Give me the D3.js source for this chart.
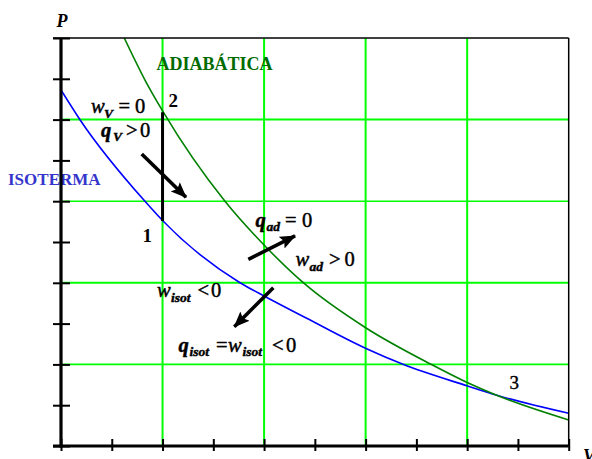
<!DOCTYPE html>
<html>
<head>
<meta charset="utf-8">
<script src="https://cdn.jsdelivr.net/npm/d3@7/dist/d3.min.js"></script>
<style>
  html, body { margin: 0; padding: 0; background: #fff; }
  svg { display: block; }
  text { font-family: "Liberation Serif", "Times New Roman", serif; }
</style>
</head>
<body>
<svg id="chart" width="592" height="459"></svg>
<script>
// P–V diagram: isotherm and adiabat through a common point (3),
// with an isochoric step 1 → 2.

// Isotherm (V, P) points
const isoV = [0, 0.187, 0.827, 1.005, 1.763, 2.009, 2.420, 3.004, 3.368, 4.005, 4.284, 5.0];
const isoP = [4.363, 3.999, 2.999, 2.757, 2.001, 1.832, 1.565, 1.195, 1.001, 0.735, 0.625, 0.401];

// Adiabat (V, P) points
const adV = [0.623, 0.827, 1.005, 1.615, 2.009, 2.386, 3.004, 3.644, 4.005, 4.284, 5.0];
const adP = [5.0, 4.485, 4.097, 2.999, 2.451, 2.001, 1.446, 1.001, 0.775, 0.625, 0.319];

// States
const stateNames = ["1", "2", "3"];
const stateV = [1.0, 1.0, 4.284];
const stateP = [2.757, 4.09, 0.625];

// Axis ticks (major grid + minor ticks)
const gridValues = [1, 2, 3, 4];
const tickValues = [0, 0.5, 1, 1.5, 2, 2.5, 3, 3.5, 4, 4.5, 5];

// Direction arrows: start (V, P) → end (V, P)
const arrowV0 = [0.795, 1.845, 2.091];
const arrowP0 = [3.578, 2.288, 1.940];
const arrowV1 = [1.231, 2.305, 1.707];
const arrowP1 = [3.048, 2.574, 1.462];

const svg = d3.select("#chart");
const x = d3.scaleLinear().domain([0, 5]).range([61, 568.7]);
const y = d3.scaleLinear().domain([0, 5]).range([446, 38]);

const GREEN_GRID = "#00ff00";
const BLUE = "#0000ff";
const GREEN = "#008000";

// Grid
const grid = svg.append("g");
grid.selectAll("line.v").data(gridValues).join("line")
  .attr("x1", d => x(d)).attr("x2", d => x(d))
  .attr("y1", y(0)).attr("y2", y(5))
  .attr("stroke", GREEN_GRID).attr("stroke-width", 2);
grid.selectAll("line.h").data(gridValues).join("line")
  .attr("y1", d => y(d)).attr("y2", d => y(d))
  .attr("x1", x(0)).attr("x2", x(5))
  .attr("stroke", GREEN_GRID).attr("stroke-width", d => (d % 2 === 0 ? 2 : 1.6));

// Curves
svg.append("clipPath").attr("id", "plot")
  .append("rect").attr("x", x(0)).attr("y", y(5))
  .attr("width", x(5) - x(0)).attr("height", y(0) - y(5));

const line = d3.line().x(d => x(d[0])).y(d => y(d[1])).curve(d3.curveMonotoneX);
svg.append("path")
  .attr("d", line(d3.zip(isoV, isoP)))
  .attr("fill", "none").attr("stroke", BLUE).attr("stroke-width", 1.6)
  .attr("clip-path", "url(#plot)");
svg.append("path")
  .attr("d", line(d3.zip(adV, adP)))
  .attr("fill", "none").attr("stroke", GREEN).attr("stroke-width", 1.6)
  .attr("clip-path", "url(#plot)");

// Isochoric step 1 → 2
svg.append("line")
  .attr("x1", x(stateV[0])).attr("x2", x(stateV[1]))
  .attr("y1", y(stateP[0])).attr("y2", y(stateP[1]))
  .attr("stroke", "#000").attr("stroke-width", 3);

// Arrows
svg.append("defs").append("marker")
  .attr("id", "head").attr("markerUnits", "userSpaceOnUse")
  .attr("viewBox", "0 -7 16 14").attr("refX", 15).attr("refY", 0)
  .attr("markerWidth", 16).attr("markerHeight", 14).attr("orient", "auto")
  .append("path").attr("d", "M0,-6.5L16,0L0,6.5L3,0Z").attr("fill", "#000");

svg.selectAll("line.arrow").data(d3.range(arrowV0.length)).join("line")
  .attr("class", "arrow")
  .attr("x1", i => x(arrowV0[i])).attr("y1", i => y(arrowP0[i]))
  .attr("x2", i => x(arrowV1[i])).attr("y2", i => y(arrowP1[i]))
  .attr("stroke", "#000").attr("stroke-width", 3.6)
  .attr("marker-end", "url(#head)");

// Curve names
svg.append("text").attr("x", 156.5).attr("y", 70)
  .attr("font-size", 18).attr("font-weight", "bold").attr("fill", "#006b00")
  .text("ADIABÁTICA");
svg.append("text").attr("x", 8).attr("y", 185)
  .attr("font-size", 17).attr("font-weight", "bold").attr("fill", "#3535cc")
  .text("ISOTERMA");

// Math labels, built from runs: [text, kind, x, baseline]
// kinds: "it" italic variable, "itb" bold italic variable, "sub" subscript, "up" upright
const MAIN = 20.5, SUB = 13.5, SUBDROP = 4.5;
function mathLabel(runs) {
  const t = svg.append("text").attr("fill", "#000")
    .attr("stroke", "#000").attr("stroke-width", 0.45);
  runs.forEach(([s, kind, px, py]) => {
    const ts = t.append("tspan").attr("x", px).text(s);
    if (kind === "sub") {
      ts.attr("y", py + SUBDROP).attr("font-size", SUB)
        .attr("font-style", "italic").attr("font-weight", "bold");
    } else {
      ts.attr("y", py).attr("font-size", MAIN)
        .attr("font-style", kind === "up" ? "normal" : "italic")
        .attr("font-weight", kind === "itb" ? "bold" : "normal");
    }
  });
}
mathLabel([["w", "it", 91, 113.3], ["V", "sub", 104, 113.3], ["=", "up", 118.5, 113.3], ["0", "up", 135, 113.3]]);
mathLabel([["q", "itb", 101, 136.7], ["V", "sub", 113, 136.7], [">", "up", 126, 136.7], ["0", "up", 140, 136.7]]);
mathLabel([["q", "itb", 255.5, 226.7], ["ad", "sub", 266.5, 226.7], ["=", "up", 285, 226.7], ["0", "up", 302, 226.7]]);
mathLabel([["w", "it", 295.5, 266], ["ad", "sub", 309.5, 266], [">", "up", 329, 266], ["0", "up", 344.5, 266]]);
mathLabel([["w", "it", 157, 297.3], ["isot", "sub", 171, 297.3], ["<", "up", 197.5, 297.3], ["0", "up", 211, 297.3]]);
mathLabel([["q", "itb", 178.5, 351.7], ["isot", "sub", 189.5, 351.7], ["=", "up", 216, 351.7],
           ["w", "it", 228, 351.7], ["isot", "sub", 242.5, 351.7], ["<", "up", 272, 351.7], ["0", "up", 286, 351.7]]);

// State numbers
const stateLabelDX = [-20, 6, 13.5];
const stateLabelDY = [20.5, -5, -6.5];
const stateLabelBold = [true, true, false];
svg.selectAll("text.state").data(stateNames).join("text")
  .attr("class", "state")
  .attr("x", (d, i) => x(stateV[i]) + stateLabelDX[i])
  .attr("y", (d, i) => y(stateP[i]) + stateLabelDY[i])
  .attr("font-size", 19).attr("fill", "#000")
  .attr("stroke", "#000").attr("stroke-width", (d, i) => stateLabelBold[i] ? 0 : 0.4)
  .attr("font-weight", (d, i) => stateLabelBold[i] ? "bold" : "normal")
  .text(d => d);

// Frame (top and right)
svg.append("line").attr("x1", x(0) - 8).attr("x2", x(5)).attr("y1", y(5)).attr("y2", y(5))
  .attr("stroke", "#000").attr("stroke-width", 1.5);
svg.append("line").attr("x1", x(5)).attr("x2", x(5)).attr("y1", y(5)).attr("y2", y(0))
  .attr("stroke", "#000").attr("stroke-width", 1.5);

// Axes with ticks crossing the axis line
const yAxis = svg.append("g").attr("transform", `translate(${x(0)},0)`)
  .call(d3.axisLeft(y).tickValues(tickValues).tickFormat("").tickSizeInner(8).tickSizeOuter(0));
yAxis.selectAll(".tick line").attr("x1", 9).attr("x2", -8).attr("stroke-width", 2);
yAxis.select(".domain").attr("stroke-width", 3.2).attr("d", `M0,${y(5)}V${y(0) + 1.5}`);

const xAxis = svg.append("g").attr("transform", `translate(0,${y(0)})`)
  .call(d3.axisBottom(x).tickValues(tickValues).tickFormat("").tickSizeInner(5).tickSizeOuter(0));
xAxis.selectAll(".tick line").attr("y1", -7).attr("y2", 5).attr("stroke-width", 2);
xAxis.select(".domain").attr("stroke-width", 3.2).attr("d", `M${x(0) - 8},0H${x(5)}`);

// Axis titles
svg.append("text").attr("x", 56.5).attr("y", 26.7)
  .attr("font-size", 18).attr("font-weight", "bold").attr("font-style", "italic")
  .text("P");
svg.append("text").attr("x", 583).attr("y", 462)
  .attr("font-size", 18).attr("font-weight", "bold").attr("font-style", "italic")
  .text("V");
</script>
</body>
</html>
